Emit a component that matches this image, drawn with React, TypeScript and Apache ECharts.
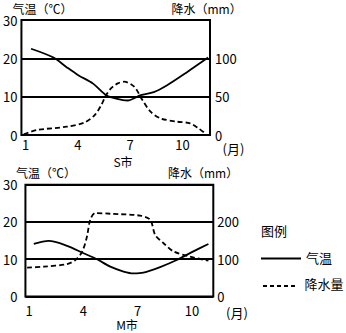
import React, { useEffect, useRef } from "react";
import * as echarts from "echarts";

// S市 (top chart)
const sTempMonths = [1.31, 2.6, 3.35, 4.02, 4.87, 5.62, 6.19, 6.85, 7.61, 8.35, 9.12, 10.26, 11.47];
const sTemp = [22.5, 20.2, 17.7, 15.6, 13.4, 10.4, 9.5, 9.0, 10.4, 11.2, 13.0, 16.4, 20.2];
const sRainMonths = [0.89, 1.65, 3.35, 4.39, 4.96, 5.34, 5.62, 5.91, 6.29, 6.66, 7.23, 7.7, 8.17, 8.74, 9.69, 10.44, 10.92, 11.3];
const sRain = [1, 6.5, 10.8, 16.5, 26, 39, 52, 61, 67.4, 69.5, 63, 45.6, 30.4, 21.7, 17.4, 15.2, 8.7, 2.2];

// M市 (bottom chart)
const mTempMonths = [1.26, 2.08, 3.1, 4.01, 4.75, 5.49, 6.22, 6.77, 7.32, 8.24, 9.16, 10.08, 10.91];
const mTemp = [14.1, 14.9, 13.6, 11.6, 10.0, 8.0, 6.7, 6.2, 6.4, 7.9, 9.8, 12.1, 14.1];
const mRainMonths = [0.89, 1.81, 3.1, 3.56, 3.93, 4.2, 4.38, 4.66, 5.49, 7.14, 7.69, 7.97, 8.43, 8.98, 9.9, 10.91];
const mRain = [77.5, 80, 87, 98, 120, 161, 206, 224, 222, 217, 206, 165, 143, 121, 107, 96];

const monthTicks = [1, 4, 7, 10];
const sTempTicks = [0, 10, 20, 30];
const sRainTicks = [0, 50, 100];
const mTempTicks = [0, 10, 20, 30];
const mRainTicks = [0, 100, 200];

const FONT = '"Noto Sans CJK SC", "Noto Sans", sans-serif';

const pairs = (xs: number[], ys: number[]) => xs.map((x, i) => [x, ys[i]]);

export default function App() {
  const ref = useRef<HTMLDivElement>(null);
  useEffect(() => {
    if (!ref.current) return;
    const chart = echarts.init(ref.current, null, { renderer: "svg" });
    const lab = (size: number, margin: number) => ({
      color: "#000",
      fontSize: size,
      fontFamily: FONT,
      margin,
    });
    const xAx = (gi: number, min: number, max: number, margin: number) => ({
      type: "value",
      gridIndex: gi,
      min,
      max,
      axisLine: { show: false },
      axisTick: { show: false },
      splitLine: { show: false },
      axisLabel: { ...lab(13, margin), lineHeight: 13, customValues: monthTicks },
    });
    const yAx = (gi: number, pos: string, max: number, ticks: number[], split: boolean, margin: number) => ({
      type: "value",
      gridIndex: gi,
      position: pos,
      min: 0,
      max,
      interval: max / 3,
      axisLine: { show: false },
      axisTick: { show: false },
      splitLine: { show: split, lineStyle: { color: "#000", width: 1.8 } },
      axisLabel: { ...lab(13, margin), lineHeight: 13, customValues: ticks },
    });
    const txt = (text: string, x: number, y: number, size: number, align = "left") => ({
      type: "text",
      x,
      y,
      style: {
        text,
        fill: "#000",
        font: `${size}px ${FONT}`,
        lineHeight: size,
        textAlign: align,
        textVerticalAlign: "middle",
      },
    });
    const lineSeries = (xi: number, yi: number, data: number[][], dashed: boolean) => ({
      type: "line",
      xAxisIndex: xi,
      yAxisIndex: yi,
      data,
      smooth: 0.3,
      symbol: "none",
      lineStyle: { color: "#000", width: 1.8, type: dashed ? [5, 3] : "solid" },
    });
    chart.setOption({
      animation: false,
      grid: [
        { left: 19.3, top: 20, width: 190.7, height: 115, show: true, borderColor: "#000", borderWidth: 2, containLabel: false },
        { left: 25, top: 184.7, width: 188.3, height: 111.8, show: true, borderColor: "#000", borderWidth: 2, containLabel: false },
      ],
      xAxis: [xAx(0, 0.758, 11.58, 3), xAx(1, 0.798, 11.18, 7)],
      yAxis: [
        yAx(0, "left", 30, sTempTicks, true, 4),
        yAx(0, "right", 150, sRainTicks, false, 5),
        yAx(1, "left", 30, mTempTicks, true, 8),
        yAx(1, "right", 300, mRainTicks, false, 4),
      ],
      series: [
        lineSeries(0, 0, pairs(sTempMonths, sTemp), false),
        lineSeries(0, 1, pairs(sRainMonths, sRain), true),
        lineSeries(1, 2, pairs(mTempMonths, mTemp), false),
        lineSeries(1, 3, pairs(mRainMonths, mRain), true),
      ],
      graphic: [
        txt("气温（℃）", 12.5, 8.5, 12),
        txt("降水（mm）", 171.5, 8.5, 12),
        txt("(月)", 222.5, 148, 13),
        txt("S市", 123, 161.5, 12, "center"),
        txt("气温（℃）", 16, 172, 12),
        txt("降水（mm）", 168, 172, 12),
        txt("(月)", 226, 312, 13),
        txt("M市", 127, 324, 12, "center"),
        txt("图例", 261, 230, 13),
        {
          type: "line",
          shape: { x1: 261, y1: 258.5, x2: 301, y2: 258.5 },
          style: { stroke: "#000", lineWidth: 2 },
        },
        txt("气温", 306, 257, 13),
        {
          type: "line",
          shape: { x1: 263, y1: 286, x2: 298, y2: 286 },
          style: { stroke: "#000", lineWidth: 2, lineDash: [4, 3] },
        },
        txt("降水量", 304.5, 283, 13),
      ],
    });
    return () => chart.dispose();
  }, []);
  return (
    <div
      ref={ref}
      style={{ position: "fixed", left: 0, top: 0, width: 346, height: 333, background: "#fff" }}
    />
  );
}
